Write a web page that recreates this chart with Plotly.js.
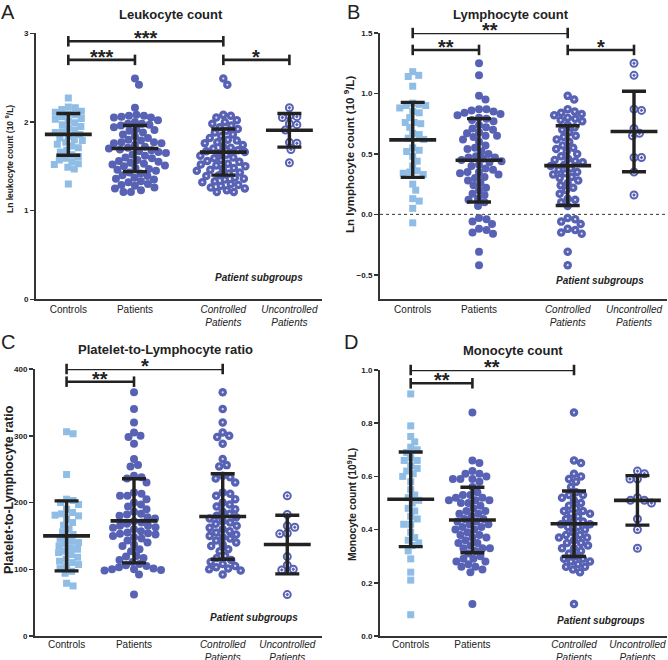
<!DOCTYPE html>
<html>
<head>
<meta charset="utf-8">
<script src="https://cdn.plot.ly/plotly-3.0.1.min.js"></script>
<style>
  body { margin: 0; background: #fff; }
  #chart { width: 668px; height: 660px; }
</style>
</head>
<body>
<div id="chart"></div>
<script>
const tickText = ['Controls', 'Patients', '<i>Controlled<br>Patients</i>', '<i>Uncontrolled<br>Patients</i>'];

// A - leukocyte count (ln)
const leukControls = [2.27, 2.17, 2.16, 2.14, 2.12, 2.11, 2.09, 2.08, 2.06, 2.04, 2.03, 2.01, 1.99, 1.97, 1.95, 1.93, 1.91, 1.89, 1.88, 1.86,
  1.84, 1.82, 1.80, 1.79, 1.77, 1.75, 1.73, 1.71, 1.68, 1.66, 1.63, 1.61, 1.59, 1.57, 1.55, 1.53, 1.52, 1.49, 1.47, 1.30];
const leukControlled = [2.49, 2.42, 2.08, 2.07, 2.05, 2.02, 2.00, 1.98, 1.96, 1.94, 1.92, 1.90, 1.88, 1.86, 1.84, 1.82, 1.80, 1.79, 1.77, 1.76,
  1.74, 1.72, 1.71, 1.70, 1.68, 1.67, 1.66, 1.65, 1.63, 1.62, 1.60, 1.59, 1.57, 1.56, 1.55, 1.53, 1.52, 1.51, 1.50, 1.48,
  1.47, 1.46, 1.45, 1.43, 1.42, 1.40, 1.39, 1.37, 1.36, 1.35, 1.33, 1.32, 1.30, 1.29, 1.28, 1.26, 1.25, 1.23, 1.21, 1.21];
const leukUncontrolled = [2.16, 2.07, 2.06, 2.05, 1.98, 1.97, 1.91, 1.77, 1.76, 1.69, 1.54];
const leukMean = [1.86, 1.70, 1.66, 1.906];
const leukSd = [0.235, 0.26, 0.26, 0.19];
const leukSig = [[0, 2, 2.91, '***'], [0, 1, 2.70, '***'], [2, 3, 2.70, '*']];

// B - lymphocyte count (ln)
const lymphControls = [1.18, 1.15, 1.14, 1.06, 0.92, 0.91, 0.90, 0.90, 0.88, 0.85, 0.84, 0.80, 0.76, 0.76, 0.75, 0.72, 0.67, 0.66,
  0.63, 0.62, 0.55, 0.53, 0.52, 0.48, 0.44, 0.40, 0.36, 0.35, 0.34, 0.33, 0.25, 0.20, 0.13, 0.11, 0.05, -0.07];
const lymphControlled = [0.98, 0.95, 0.87, 0.85, 0.84, 0.83, 0.82, 0.80, 0.79, 0.78, 0.77, 0.74, 0.72, 0.70, 0.68, 0.65, 0.64, 0.62,
  0.60, 0.57, 0.55, 0.54, 0.52, 0.50, 0.48, 0.46, 0.45, 0.44, 0.43, 0.41, 0.40, 0.38, 0.37, 0.35, 0.34, 0.33, 0.31, 0.30,
  0.28, 0.26, 0.24, 0.22, 0.20, 0.17, 0.13, 0.12, 0.10, 0.07, -0.03, -0.04, -0.06, -0.08, -0.12, -0.13, -0.15, -0.16, -0.31, -0.42];
const lymphUncontrolled = [1.25, 1.15, 0.87, 0.86, 0.71, 0.67, 0.65, 0.47, 0.47, 0.35, 0.16];
const lymphMean = [0.616, 0.447, 0.403, 0.685];
const lymphSd = [0.31, 0.345, 0.33, 0.333];
const lymphSig = [[0, 2, 1.50, '**'], [0, 1, 1.36, '**'], [2, 3, 1.36, '*']];

// C - platelet-to-lymphocyte ratio
const plrControls = [306, 303, 242, 205, 203, 200, 197, 190, 185, 183, 181, 180, 175, 170, 166, 160, 156, 152, 148, 145,
  142, 140, 138, 135, 132, 130, 127, 125, 122, 118, 115, 112, 110, 107, 104, 101, 97, 94, 79, 75];
const plrControlled = [365, 340, 320, 305, 300, 298, 288, 265, 256, 254, 240, 238, 236, 230, 215, 213, 210, 205, 200, 197,
  194, 190, 186, 183, 180, 178, 176, 172, 170, 168, 165, 162, 160, 157, 155, 152, 150, 148, 146, 143,
  140, 137, 135, 130, 127, 120, 117, 114, 111, 108, 105, 103, 101, 100, 98, 92];
const plrUncontrolled = [210, 182, 165, 163, 154, 153, 119, 106, 100, 99, 62];
const plrMean = [150, 172.5, 179, 137];
const plrSd = [52.5, 63, 64, 44];
const plrSig = [[0, 2, 400, '*'], [0, 1, 381, '**']];

// D - monocyte count
const monoControls = [0.91, 0.79, 0.75, 0.73, 0.71, 0.70, 0.69, 0.67, 0.66, 0.66, 0.64, 0.63, 0.62, 0.61, 0.60, 0.58, 0.55, 0.53,
  0.52, 0.51, 0.50, 0.48, 0.47, 0.45, 0.44, 0.42, 0.42, 0.39, 0.37, 0.36, 0.35, 0.34, 0.32, 0.29, 0.24, 0.21, 0.08];
const monoControlled = [0.84, 0.66, 0.65, 0.61, 0.60, 0.59, 0.58, 0.56, 0.54, 0.53, 0.53, 0.52, 0.51, 0.50, 0.49, 0.48, 0.47, 0.47,
  0.46, 0.46, 0.45, 0.44, 0.43, 0.43, 0.42, 0.42, 0.41, 0.41, 0.40, 0.39, 0.38, 0.38, 0.37, 0.37, 0.36, 0.35, 0.35, 0.34,
  0.33, 0.33, 0.32, 0.31, 0.30, 0.29, 0.29, 0.28, 0.28, 0.27, 0.26, 0.26, 0.25, 0.24, 0.12];
const monoUncontrolled = [0.62, 0.61, 0.59, 0.59, 0.52, 0.51, 0.51, 0.50, 0.44, 0.40, 0.33];
const monoMean = [0.514, 0.436, 0.422, 0.51];
const monoSd = [0.178, 0.123, 0.123, 0.093];
const monoSig = [[0, 2, 1.0, '**'], [0, 1, 0.95, '**']];

const W = 668, H = 660;
const FONT = 'Liberation Sans, Arial, sans-serif';
const INK = '#222222';
const LIGHT = '#8FBDE6';
const DARK = '#5862B4';

const panels = [
  { ax: '', letter: 'A', letterAt: [8, 12], title: 'Leukocyte count', titleAt: [171, 14],
    ytitle: 'Ln leukocyte count (10 <sup>9</sup>/L)', ytitleAt: [9, 159], ytitleSize: 8.5,
    controls: leukControls, controlled: leukControlled, uncontrolled: leukUncontrolled,
    mean: leukMean, sd: leukSd, sig: leukSig, yrange: [0, 3], ytick: [0, 1, 2, 3], yfmt: 'd',
    pos: [0.113, 0.346, 0.655, 0.886], xpx: [36, 322], ypx: [33.3, 299.3], subAt: [259, 277], labelShift: 0 },
  { ax: '2', letter: 'B', letterAt: [353, 12], title: 'Lymphocyte count', titleAt: [511, 14],
    ytitle: 'Ln lymphocyte count (10 <sup>9</sup>/L)', ytitleAt: [349, 155], ytitleSize: 11.5,
    controls: lymphControls, controlled: lymphControlled, uncontrolled: lymphUncontrolled,
    mean: lymphMean, sd: lymphSd, sig: lymphSig, yrange: [-0.7, 1.5], ytick: [-0.5, 0, 0.5, 1, 1.5], yfmt: '.1f',
    pos: [0.114, 0.345, 0.654, 0.885], xpx: [380, 667], ypx: [33, 299], subAt: [600, 280], labelShift: 0 },
  { ax: '3', letter: 'C', letterAt: [8, 342], title: 'Platelet-to-Lymphocyte ratio', titleAt: [165, 349],
    ytitle: 'Platelet-to-Lymphocyte ratio', ytitleAt: [9, 490], ytitleSize: 12.5,
    controls: plrControls, controlled: plrControlled, uncontrolled: plrUncontrolled,
    mean: plrMean, sd: plrSd, sig: plrSig, yrange: [0, 400], ytick: [0, 100, 200, 300, 400], yfmt: 'd',
    pos: [0.110, 0.345, 0.654, 0.879], xpx: [35, 322], ypx: [369, 636], subAt: [254, 617], labelShift: -2 },
  { ax: '4', letter: 'D', letterAt: [351, 342], title: 'Monocyte count', titleAt: [513, 350],
    ytitle: 'Monocyte count (10<sup>9</sup>/L)', ytitleAt: [351, 504], ytitleSize: 10.3,
    controls: monoControls, controlled: monoControlled, uncontrolled: monoUncontrolled,
    mean: monoMean, sd: monoSd, sig: monoSig, yrange: [0, 1], ytick: [0, 0.2, 0.4, 0.6, 0.8, 1], yfmt: '.1f',
    pos: [0.107, 0.322, 0.676, 0.897], xpx: [380, 667], ypx: [370, 636], subAt: [601, 620], labelShift: -2 },
];

// simple beeswarm: offsets in px so markers do not pile up
function swarm(values, pxPerUnit, gap) {
  const idx = values.map((v, i) => i).sort((a, b) => values[b] - values[a]);
  const placed = [];
  const out = new Array(values.length).fill(0);
  idx.forEach(i => {
    const py = values[i] * pxPerUnit;
    let chosen = 0;
    for (let k = 0; k < 400; k++) {
      const step = Math.ceil(k / 2) * 0.5;
      const cand = k % 2 === 1 ? step : -step;
      const hit = placed.some(p => (p[0] - cand) ** 2 + (p[1] - py) ** 2 < gap * gap);
      if (!hit) { chosen = cand; break; }
    }
    placed.push([chosen, py]);
    out[i] = chosen;
  });
  return out;
}

const traces = [];
const layout = {
  width: W, height: H,
  margin: { l: 0, r: 0, t: 0, b: 0 },
  paper_bgcolor: '#fff', plot_bgcolor: '#fff',
  showlegend: false,
  font: { family: FONT, color: INK },
  annotations: [],
  shapes: [],
};

function paperAnn(px, py, text, size, extra) {
  return Object.assign({
    xref: 'paper', yref: 'paper', x: px / W, y: 1 - py / H, text: text,
    showarrow: false, xanchor: 'center', yanchor: 'middle',
    font: { family: FONT, size: size, color: INK },
  }, extra || {});
}

panels.forEach(p => {
  const xa = 'x' + p.ax, ya = 'y' + p.ax;
  const plotW = p.xpx[1] - p.xpx[0];
  const plotH = p.ypx[1] - p.ypx[0];
  const pxPerUnit = plotH / (p.yrange[1] - p.yrange[0]);
  const patients = p.controlled.concat(p.uncontrolled);
  const groupVals = [p.controls, patients, p.controlled, p.uncontrolled];
  const xs = groupVals.map((vals, g) => {
    const off = swarm(vals, pxPerUnit, g === 0 ? 6.6 : 7.2);
    return off.map(o => p.pos[g] + o / plotW);
  });

  traces.push({
    x: xs[0], y: p.controls, xaxis: xa, yaxis: ya, type: 'scatter', mode: 'markers',
    marker: { symbol: 'square', size: 7, color: LIGHT, line: { width: 0 } }, hoverinfo: 'y',
  });
  traces.push({
    x: xs[1], y: patients, xaxis: xa, yaxis: ya, type: 'scatter', mode: 'markers',
    marker: { symbol: 'circle', size: 8, color: DARK, line: { width: 0 } }, hoverinfo: 'y',
  });
  traces.push({
    x: xs[2], y: p.controlled, xaxis: xa, yaxis: ya, type: 'scatter', mode: 'markers',
    marker: { symbol: 'circle', size: 8.5, color: DARK, line: { width: 0 } }, hoverinfo: 'y',
  });
  traces.push({
    x: xs[2], y: p.controlled, xaxis: xa, yaxis: ya, type: 'scatter', mode: 'markers',
    marker: { symbol: 'circle', size: 2.2, color: '#dfe2f3', line: { width: 0 } }, hoverinfo: 'skip',
  });
  traces.push({
    x: xs[3], y: p.uncontrolled, xaxis: xa, yaxis: ya, type: 'scatter', mode: 'markers',
    marker: { symbol: 'circle-open-dot', size: 7, color: DARK, line: { width: 2, color: DARK } }, hoverinfo: 'y',
  });

  // mean +/- SD
  traces.push({
    x: p.pos, y: p.mean, xaxis: xa, yaxis: ya, type: 'scatter', mode: 'markers', cliponaxis: false,
    marker: { symbol: 'line-ew', size: 33.5, color: INK, line: { width: 3.6, color: INK } },
    error_y: { type: 'data', array: p.sd, visible: true, color: INK, thickness: 3.4, width: 12 },
    hoverinfo: 'y',
  });

  // significance brackets
  p.sig.forEach(s => {
    const xa0 = p.pos[s[0]], xa1 = p.pos[s[1]];
    traces.push({
      x: [xa0, xa1], y: [s[2], s[2]], xaxis: xa, yaxis: ya, type: 'scatter', mode: 'lines+markers',
      cliponaxis: false, hoverinfo: 'skip',
      line: { color: INK, width: 2.6 },
      marker: { symbol: 'line-ns', size: 7.5, color: INK, line: { width: 2.6, color: INK } },
    });
    layout.annotations.push({
      xref: xa, yref: ya, x: (xa0 + xa1) / 2, y: s[2], text: s[3], showarrow: false,
      xanchor: 'center', yanchor: 'bottom', yshift: -10,
      font: { family: FONT, size: 20, color: INK, weight: 'bold' },
    });
  });

  layout['xaxis' + p.ax] = {
    domain: [p.xpx[0] / W, p.xpx[1] / W], anchor: ya, range: [0, 1],
    showline: true, linewidth: 2, linecolor: '#333', showgrid: false, zeroline: false,
    ticks: '', tickvals: p.pos, ticktext: tickText, ticklabelstandoff: p.labelShift,
    tickfont: { family: FONT, size: 10, color: INK }, fixedrange: true,
  };
  layout['yaxis' + p.ax] = {
    domain: [1 - p.ypx[1] / H, 1 - p.ypx[0] / H], anchor: xa, range: p.yrange,
    showline: true, linewidth: 2, linecolor: '#333', showgrid: false, zeroline: false,
    ticks: 'outside', ticklen: 4, tickwidth: 1.5, tickcolor: '#333',
    tickvals: p.ytick, tickformat: p.yfmt,
    tickfont: { family: FONT, size: 8, color: INK, weight: 'bold' }, fixedrange: true,
  };

  layout.annotations.push(paperAnn(p.letterAt[0], p.letterAt[1], p.letter, 20));
  layout.annotations.push(paperAnn(p.titleAt[0], p.titleAt[1], '<b>' + p.title + '</b>', 13));
  layout.annotations.push(paperAnn(p.ytitleAt[0], p.ytitleAt[1], '<b>' + p.ytitle + '</b>', p.ytitleSize, { textangle: -90 }));
  layout.annotations.push(paperAnn(p.subAt[0], p.subAt[1], '<b><i>Patient subgroups</i></b>', 10));
});

// dotted zero line in panel B
layout.shapes.push({
  type: 'line', xref: 'x2 domain', yref: 'y2', x0: 0, x1: 1, y0: 0, y1: 0, layer: 'below',
  line: { color: '#333', width: 1, dash: 'dot' },
});

Plotly.newPlot('chart', traces, layout, { displayModeBar: false, staticPlot: true });
</script>
</body>
</html>
